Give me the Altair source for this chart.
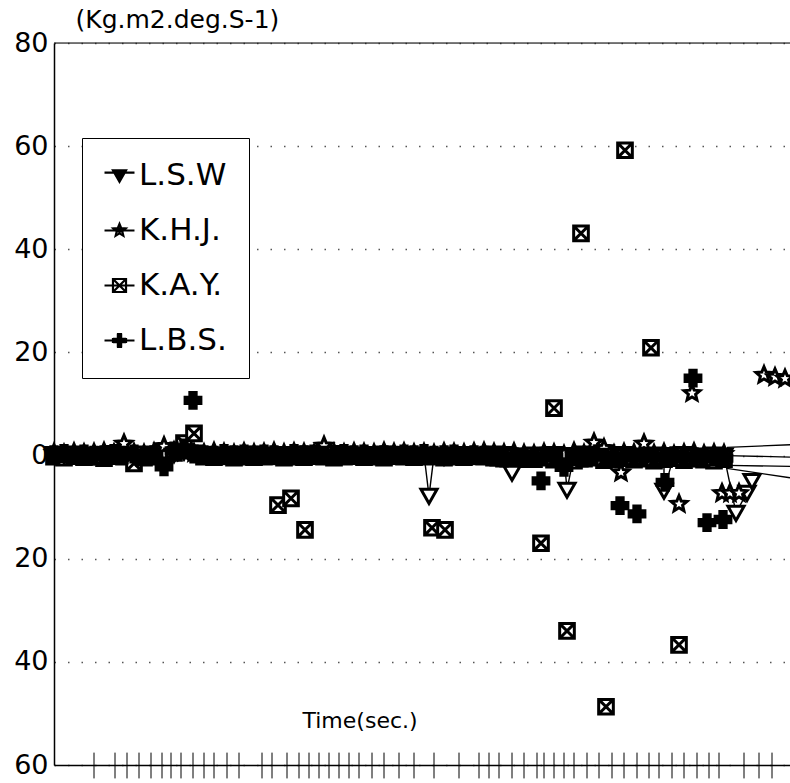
import altair as alt
import pandas as pd

SERIES = ["L.S.W", "K.H.J.", "K.A.Y.", "L.B.S."]

# sampling times of the dense band (sec.)
BAND_TIME = [0.0, 0.2, 0.4, 0.6, 0.8, 1.0, 1.2, 1.4, 1.6, 1.8,
             2.0, 2.2, 2.4, 2.6, 2.8, 3.0, 3.2, 3.4, 3.6, 3.8,
             4.0, 4.2, 4.4, 4.6, 4.8, 5.0, 5.2, 5.4, 5.6, 5.8,
             6.0, 6.2, 6.4, 6.6, 6.8, 7.0, 7.2, 7.4, 7.6, 7.8,
             8.0, 8.2, 8.4, 8.6, 8.8, 9.0, 9.2, 9.4, 9.6, 9.8,
             10.0, 10.2, 10.4, 10.6, 10.8, 11.0, 11.2, 11.4, 11.6, 11.8,
             12.0, 12.2, 12.4, 12.6, 12.8, 13.0, 13.2, 13.4]

LSW_BAND = [0.3, 0.1, 0.4, 0.2, 0.0, 0.3, 0.5, 0.2, 0.1, 0.4,
            0.2, 0.6, 0.3, 0.8, 0.6, 0.3, 0.2, 0.1, 0.3, 0.2,
            0.4, 0.2, 0.1, 0.3, 0.2, 0.4, 0.3, 0.2, 0.5, 0.3,
            0.2, 0.1, 0.3, 0.4, 0.2, 0.3, 0.1, 0.2, 0.0, -0.2,
            0.2, 0.3, 0.1, 0.2, 0.4, 0.3, 0.0, -0.3, 0.2, 0.1,
            0.3, -0.2, 0.1, 0.4, 0.2, -0.3, 0.1, 0.3, -0.2, 0.0,
            0.2, -0.4, 0.1, 0.3, -0.3, 0.0, 0.2, 0.0]
KHJ_BAND = [0.5, 0.3, 0.6, 0.4, 0.5, 0.7, 0.4, 2.3, 0.5, 0.3,
            0.6, 1.8, 0.8, 0.6, 0.5, 0.4, 0.7, 0.5, 0.3, 0.6,
            0.4, 0.5, 0.7, 0.4, 0.6, 0.5, 0.3, 1.9, 0.5, 0.4,
            0.6, 0.5, 0.4, 0.7, 0.5, 0.6, 0.4, 0.5, 0.3, 0.6,
            0.5, 0.4, 0.6, 0.7, 0.5, 0.4, 0.6, 0.3, 0.2, 0.5,
            0.4, 0.1, 0.7, 0.3, 2.5, 1.4, 0.2, 0.5, 0.4, 2.3,
            0.3, 0.5, 0.1, 0.4, 0.6, 0.2, 0.4, 0.3]
KAY_BAND = [-0.2, -0.4, -0.1, -0.3, -0.2, -0.5, -0.1, -0.2, -1.5, -0.4,
            -0.2, -0.1, 0.5, 2.4, 4.3, -0.2, -0.3, -0.1, -0.4, -0.2,
            -0.3, -0.2, -0.1, -0.4, -0.2, -0.3, -0.1, -0.2, -0.4, -0.2,
            -0.1, -0.3, -0.2, -0.4, -0.1, -0.2, -0.3, -0.2, -0.1, -0.4,
            -0.2, -0.3, -0.1, -0.2, -0.4, -0.6, -0.2, -0.3, -0.7, -0.4,
            -0.8, -0.5, -1.0, -0.6, -0.4, -0.9, -0.7, -0.5, -0.8, -0.6,
            -1.0, -0.7, -0.5, -0.9, -0.6, -0.8, -1.0, -0.7]
LBS_BAND = [0.2, 0.4, 0.0, 0.3, 0.1, 0.2, 0.4, 0.1, 0.3, 0.0,
            0.2, -2.2, 0.9, 1.5, 0.3, 0.2, 0.1, 0.4, 0.2, 0.3,
            0.1, 0.3, 0.2, 0.0, 0.4, 0.2, 0.3, 0.1, 0.2, 0.4,
            0.2, 0.3, 0.0, 0.2, 0.1, 0.3, 0.2, 0.4, 0.1, 0.2,
            0.3, 0.0, 0.2, 0.1, -0.3, -0.5, -0.2, -0.6, -0.3, -0.1,
            -0.4, -2.3, -0.2, -0.5, 0.0, -0.3, -0.6, -0.2, -0.4, -0.1,
            -0.5, -0.3, 0.0, -0.4, -0.2, -0.6, -0.3, -0.5]

# isolated readings away from the band
LSW_OUT_T = [7.5, 9.16, 10.26, 12.2, 13.64, 13.86, 13.96]
LSW_OUT_V = [-7.8, -3.3, -6.6, -6.8, -11.1, -7.2, -4.9]
KHJ_OUT_T = [11.34, 12.5, 12.76, 13.36, 13.52, 13.7, 14.2, 14.42, 14.62]
KHJ_OUT_V = [-3.3, -9.4, 12.1, -7.3, -7.3, -7.3, 15.6, 15.2, 14.9]
KAY_OUT_T = [4.48, 4.74, 5.02, 7.56, 7.82, 9.74, 10.0, 10.26, 10.54, 11.04, 11.42, 11.94, 12.5]
KAY_OUT_V = [-9.6, -8.3, -14.4, -14.0, -14.4, -17.0, 9.2, -34.0, 43.1, -48.7, 59.2, 20.9, -36.7]
LBS_OUT_T = [2.78, 9.74, 11.32, 11.66, 12.22, 12.78, 13.06, 13.38]
LBS_OUT_V = [10.7, -4.9, -9.7, -11.3, -5.2, 15.0, -13.0, -12.4]

# trailing lines leaving the right edge
TAIL_T1 = [13.46, 13.46, 13.46, 13.46]
TAIL_V1 = [0.0, 1.6, -1.9, -2.5]
TAIL_T2 = [14.72, 14.72, 14.72, 14.72]
TAIL_V2 = [-0.3, 2.1, -2.1, -4.3]

TICK_TIMES = [0.8, 1.22, 1.46, 1.7, 1.94, 2.16, 2.34, 2.54, 2.78, 3.0, 3.2, 3.46,
              3.7, 4.16, 4.36, 4.66, 4.9, 5.1, 5.3, 5.5, 5.7, 5.9, 6.1, 6.36, 6.6,
              6.9, 7.2, 7.6, 8.1, 8.5, 8.7, 8.9, 9.16, 9.4, 9.66, 9.8, 10.0, 10.2,
              10.4, 10.66, 10.9, 11.16, 11.4, 11.66, 11.9, 12.1, 12.36, 12.6,
              12.86, 13.1, 13.3, 13.8, 14.1, 14.36]
Y_TICKS = [80, 60, 40, 20, 0, -20, -40, -60]

rows = []
for name, band, ot, ov in [("L.S.W", LSW_BAND, LSW_OUT_T, LSW_OUT_V),
                           ("K.H.J.", KHJ_BAND, KHJ_OUT_T, KHJ_OUT_V),
                           ("K.A.Y.", KAY_BAND, KAY_OUT_T, KAY_OUT_V),
                           ("L.B.S.", LBS_BAND, LBS_OUT_T, LBS_OUT_V)]:
    for t, v in zip(BAND_TIME, band):
        rows.append({"series": name, "t": t, "v": v})
    for t, v in zip(ot, ov):
        rows.append({"series": name, "t": t, "v": v})
df = pd.DataFrame(rows)
tails = pd.DataFrame({"series": SERIES, "t1": TAIL_T1, "v1": TAIL_V1, "t2": TAIL_T2, "v2": TAIL_V2})
ticks = pd.DataFrame({"t": TICK_TIMES})

TRI = "M-1,-0.8L1,-0.8L0,0.95Z"
STAR = ("M0,-1L0.265,-0.364L0.951,-0.309L0.428,0.139L0.588,0.809L0,0.45"
        "L-0.588,0.809L-0.428,0.139L-0.951,-0.309L-0.265,-0.364Z")
SQX = "M-1,-1H1V1H-1ZM-1,-1L1,1M1,-1L-1,1"
CROSS = "M-0.4,-1H0.4V-0.4H1V0.4H0.4V1H-0.4V0.4H-1V-0.4H-0.4Z"

# legend glyphs: stroke-only, with a line through each
LEG_TRI = "M-1,-0.8L1,-0.8L0,0.95ZM-0.55,-0.55L0.55,-0.55L0,0.4ZM-0.2,-0.5L0,0L0.2,-0.5M-2.3,-0.45L2.3,-0.45"
LEG_STAR = STAR + "M-0.45,-0.2L0.45,-0.2M-0.3,0.15L0.3,0.15M0,-0.5L0,0.35M-2.3,0L2.3,0"
LEG_SQX = SQX + "M-2.3,0L2.3,0"
LEG_CROSS = ("M-0.25,-1V1M0,-1V1M0.25,-1V1M-1,-0.25H1M-1,0H1M-1,0.25H1"
             "M-0.4,-1H0.4M-0.4,1H0.4M-1,-0.4V0.4M1,-0.4V0.4M-2.3,0L2.3,0")

FONT = "DejaVu Sans"

X = alt.X("t:Q", scale=alt.Scale(domain=[0, 14.72], nice=False, zero=False),
          axis=alt.Axis(title="Time(sec.)", labels=False, ticks=False, grid=False,
                        domainColor="black", domainWidth=1.5,
                        titleX=248, titleY=-38, titleAlign="left", titleBaseline="alphabetic",
                        titleFont=FONT, titleFontSize=22, titleFontWeight="normal",
                        titleColor="black"))
Y = alt.Y("v:Q", scale=alt.Scale(domain=[-60, 80], nice=False, zero=False),
          axis=alt.Axis(title="(Kg.m2.deg.S-1)", values=Y_TICKS, ticks=False,
                        labelExpr="'' + abs(datum.value)", labelFont=FONT, labelFontSize=27,
                        labelColor="black", labelPadding=6,
                        domainColor="black", domainWidth=1.5,
                        grid=True, gridDash=[1.5, 12], gridColor="#555", gridWidth=1.3,
                        titleAngle=0, titleX=21, titleY=-16, titleAlign="left",
                        titleBaseline="alphabetic", titleFont=FONT, titleFontSize=25,
                        titleFontWeight="normal", titleColor="black"))

base = alt.Chart(df)

top_rule = alt.Chart(pd.DataFrame({"v": [80]})).mark_rule(color="black", strokeWidth=1.2).encode(y=Y)

tick_rules = alt.Chart(ticks).mark_rule(color="black", strokeWidth=1).encode(
    x=X, y=alt.datum(-57.6), y2=alt.datum(-62.6))

tail_rules = alt.Chart(tails).mark_rule(color="black", strokeWidth=1.3).encode(
    x=alt.X("t1:Q", scale=alt.Scale(domain=[0, 14.72], nice=False, zero=False)),
    y=alt.Y("v1:Q", scale=alt.Scale(domain=[-60, 80], nice=False, zero=False)),
    x2="t2:Q", y2="v2:Q")

lsw_line = base.transform_filter(alt.datum.series == "L.S.W").mark_line(
    color="black", strokeWidth=1.4).encode(x=X, y=Y, order="t:Q")

def pts(name, path, fill, size):
    return base.transform_filter(alt.datum.series == name).mark_point(
        shape=path, filled=True, fill=fill, stroke="black", strokeWidth=3,
        size=size, opacity=1).encode(x=X, y=Y)

p_kay = pts("K.A.Y.", SQX, "white", 215)
p_lsw = pts("L.S.W", TRI, "white", 260)
p_khj = pts("K.H.J.", STAR, "white", 280)
p_lbs = pts("L.B.S.", CROSS, "black", 250)

leg = alt.Legend(orient="none", legendX=28, legendY=95, title=None,
                 labelFont=FONT, labelFontSize=31, labelColor="black",
                 symbolSize=170, symbolStrokeColor="black", symbolStrokeWidth=2.2,
                 symbolOpacity=1, padding=22, rowPadding=23, labelOffset=4,
                 fillColor="white", strokeColor="black")
legend_layer = base.transform_filter("datum.t < -1000").mark_point(
    filled=False, color="black", strokeWidth=2.2, opacity=1).encode(
    x=X, y=Y,
    shape=alt.Shape("series:N", scale=alt.Scale(domain=SERIES,
                    range=[LEG_TRI, LEG_STAR, LEG_SQX, LEG_CROSS]), legend=leg))

chart = alt.layer(top_rule, tick_rules, tail_rules, lsw_line, p_kay, p_lsw, p_khj, p_lbs,
                  legend_layer).properties(
    width=736, height=722,
    padding={"left": 54, "top": 43, "right": 0, "bottom": 18},
    autosize="none", background="white"
).configure_view(stroke=None).configure(font=FONT)

chart.save("out.html", embed_options={"renderer": "svg", "actions": False})
